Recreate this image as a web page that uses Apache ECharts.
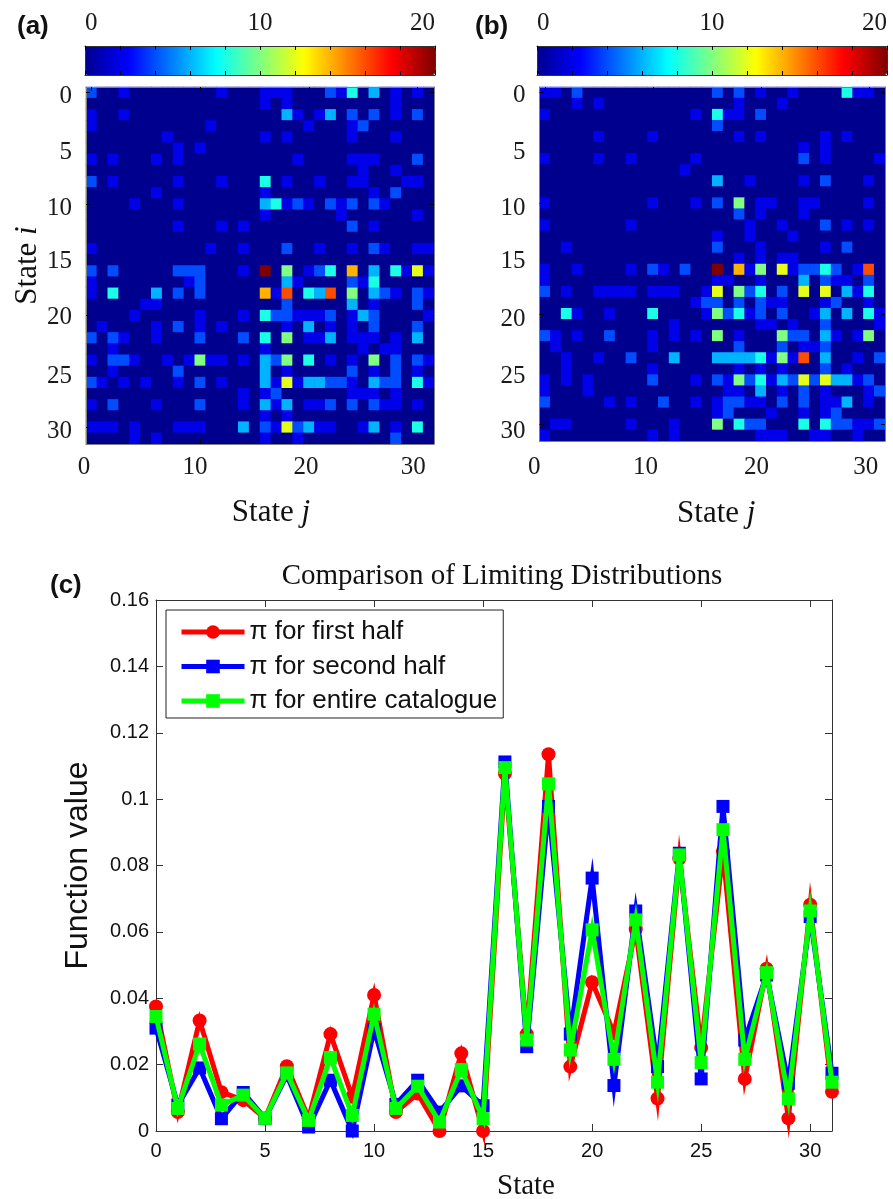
<!DOCTYPE html>
<html><head><meta charset="utf-8">
<script src="https://cdn.jsdelivr.net/npm/echarts@6/dist/echarts.min.js"></script>
<style>html,body{margin:0;padding:0;background:#fff}#c{width:893px;height:1199px}</style></head>
<body><div id="c"></div>
<script>
// Non-zero transition cells, one list per row i: [j, value, j, value, ...]
const transitionsA = [
 [0,4,3,2,12,2,16,2,17,2,18,2,22,4,23,2,24,8,26,6,28,2,30,2],
 [16,2,18,2,28,2],
 [0,2,3,2,18,6,19,2,21,2,22,6,24,4,26,4,28,2,30,4],
 [0,2,11,2,20,2,24,2,25,4],
 [7,2,16,2,18,2,24,2,28,2],
 [8,2,10,2],
 [0,2,2,2,6,2,8,2,19,2,24,2,25,2,26,2,30,4],
 [25,2,28,2],
 [0,4,2,2,8,2,12,2,16,8,18,2,21,2,24,2,25,2,29,2,30,2],
 [6,2,16,2,26,2,28,4],
 [4,2,8,2,16,6,17,8,18,2,19,4,20,2,22,4,23,2,24,4,26,4,27,2],
 [16,2,23,2,30,2],
 [8,2,12,2,14,2,24,4,26,2],
 [],
 [0,2,11,2,14,2,18,4,21,2,24,2,26,4,27,2,30,2,31,2],
 [],
 [0,4,2,4,8,4,9,4,10,4,14,2,16,20,18,10,20,2,21,4,22,8,24,14,26,6,28,8,29,2,30,12,31,2],
 [0,2,9,2,10,4,18,6,19,2,24,4,25,2,26,8],
 [0,2,2,8,6,6,8,4,10,4,16,14,17,2,18,16,20,8,21,6,22,16,24,10,26,6,27,4,28,2,30,4,31,2],
 [5,2,6,2,18,4,24,6,26,2,30,4],
 [4,2,10,2,14,2,16,8,17,4,18,4,19,2,20,2,21,2,22,4,24,2,25,6,26,4,31,2],
 [1,2,6,2,8,4,10,2,12,2,18,2,20,6,22,2,24,2,26,4,30,4],
 [0,4,2,4,3,2,6,2,10,4,14,4,16,8,18,10,20,2,21,2,22,6,24,2,25,2,26,2,28,2,30,6],
 [2,2,16,2,25,2,27,2,28,2],
 [0,2,2,4,3,4,4,2,7,2,9,2,10,10,11,2,12,2,14,2,16,6,17,4,18,10,20,8,22,2,24,2,26,10,28,4,30,4,31,2],
 [2,2,8,4,16,6,18,2,24,4,26,2,28,4,30,2],
 [0,4,1,2,3,2,5,2,8,2,10,4,12,2,16,6,17,2,18,12,19,2,20,6,21,6,22,4,23,4,24,2,26,6,27,4,28,4,30,8,31,2],
 [14,2,16,2,17,4,24,2,25,2,26,2,28,2],
 [0,2,2,4,6,2,10,4,14,2,16,6,17,2,18,6,20,2,21,2,22,4,24,4,26,4,27,2,28,2,30,2],
 [16,2,18,2],
 [0,2,1,2,2,2,4,2,8,2,9,2,10,2,14,6,16,4,17,2,18,12,19,4,20,6,21,2,22,2,25,2,26,6,28,2,30,8],
 [4,2,6,2,16,2,19,2,28,4]
];
const transitionsB = [
 [0,2,1,2,3,4,16,4,18,4,20,2,23,2,28,8,29,2,30,2],
 [3,2,5,2,18,2,22,2],
 [0,2,14,2,16,8,17,2,18,2,20,4],
 [16,4],
 [5,2,10,2,18,2,20,2,26,2,28,2],
 [24,2,26,2],
 [0,2,5,2,8,2,14,2,24,4,26,2,31,2],
 [13,2],
 [16,6,19,2,24,2,26,4,30,2],
 [],
 [0,2,10,2,14,2,16,4,18,10,20,2,21,2,24,2,25,2,30,2],
 [18,4,20,2,24,2],
 [0,2,8,2,19,2,22,2,26,4,28,2,30,2],
 [16,2,19,2,23,2],
 [2,2,16,4,20,2,26,2,28,4],
 [18,2,20,2,22,2,23,2],
 [0,2,3,2,8,2,10,4,11,2,13,4,16,20,18,14,19,2,20,10,22,12,23,2,24,4,25,4,26,8,27,4,29,2,30,16],
 [0,2,16,2,17,2,20,2,24,6,26,4,27,2,28,2,30,4],
 [0,4,2,2,5,2,6,2,7,2,8,2,10,2,11,2,12,2,15,2,16,12,18,10,19,4,20,8,22,4,24,12,26,12,28,6,29,2,30,8],
 [14,2,15,4,16,4,18,4,20,4,21,2,22,2,26,2,27,4,30,2],
 [2,8,3,2,6,2,10,8,15,2,16,10,17,4,18,8,19,2,20,4,22,4,25,2,26,6,28,6,30,8,31,2],
 [12,2,20,2,21,2,23,2,26,4,31,2],
 [0,4,1,2,3,2,6,4,10,2,12,2,14,2,16,10,18,2,22,10,23,4,24,4,26,6,27,2,29,2,30,10],
 [1,2,10,2,18,4,22,4,24,2,25,2,26,4],
 [2,2,5,2,8,4,12,6,16,6,17,6,18,6,19,6,20,8,21,2,22,10,23,2,24,16,26,6,29,2,31,4],
 [2,2,10,2,18,2,20,2,22,2,26,4,28,2],
 [0,2,2,2,4,2,10,4,14,2,16,4,17,2,18,10,19,4,20,8,21,2,22,6,23,4,24,12,25,4,26,12,27,6,28,6,29,2,30,4],
 [0,2,4,2,17,2,18,2,20,6,22,2,24,4,26,2,30,2,31,4],
 [0,4,6,2,8,2,11,4,14,2,16,2,17,4,18,4,19,2,20,2,22,4,24,4,26,2,27,2,28,6,30,2],
 [16,2,17,4,21,2,24,2,26,2,27,4],
 [1,2,2,2,8,2,12,2,16,10,18,8,19,4,20,4,24,8,26,8,27,4,28,4,29,2,30,2,31,4],
 [0,2,10,2,12,2,20,2,21,2,22,2,25,2,26,2,29,2]
];
const stateLabels = ['0','1','2','3','4','5','6','7','8','9','10','11','12','13','14','15','16','17','18','19','20','21','22','23','24','25','26','27','28','29','30','31'];
const piFirstHalf = [.0375,.0057,.0333,.0117,.0093,.0038,.0195,.0038,.0292,.0103,.041,.0057,.0113,0,.0234,0,.1077,.0292,.1135,.0194,.0448,.0295,.0608,.0098,.0821,.0251,.0842,.0157,.0489,.0038,.0682,.0118];
const piSecondHalf = [.031,.0078,.019,.0037,.0116,.0038,.0168,.0012,.0153,0,.0305,.008,.0153,.0057,.0136,.0076,.1112,.0254,.0978,.0292,.0762,.0137,.0663,.0194,.0837,.0157,.0978,.0274,.047,.0144,.0646,.0174];
const piEntire = [.0345,.0068,.0262,.0078,.0108,.0038,.0175,.0032,.0221,.0047,.0352,.0068,.0135,.0027,.0185,.0037,.1095,.0274,.1046,.0244,.0606,.0216,.0636,.0147,.0832,.0206,.0908,.0216,.0477,.0097,.0663,.0147];
const colorbarTicks = {min:0, max:20, step:2};
const jet = ['#00008f','#0000ff','#0080ff','#00ffff','#80ff80','#ffff00','#ff8000','#ff0000','#800000'];

function cells(rows){
  const out=[];
  rows.forEach((list,i)=>{
    const m={};
    for(let k=0;k<list.length;k+=2) m[list[k]]=list[k+1];
    stateLabels.forEach((_,j)=>out.push([j,i,m[j]||0]));
  });
  return out;
}
const serif='"Liberation Serif","Times New Roman",serif', sans='"Liberation Sans",Arial,sans-serif';
const frame='#7f7f7f';
const tens=i=>i%10===0;
function xCat(grid,pos,offsets,margin){
  const a={type:'category',gridIndex:grid,data:stateLabels,position:pos,z:10,boundaryGap:true,
    axisLine:{show:true,onZero:false,lineStyle:{color:frame,width:1}},
    axisTick:{show:true,inside:true,alignWithLabel:true,length:4,interval:tens,lineStyle:{color:'#000'}},
    splitLine:{show:false},axisLabel:{show:false}};
  if(offsets){
    const rich={};
    Object.keys(offsets).forEach(k=>rich['t'+k]={fontFamily:serif,fontSize:25,color:'#1a1a1a',padding:[0,offsets[k]*2,0,0]});
    a.axisLabel={show:true,interval:tens,margin,formatter:v=>`{t${v}|${v}}`,rich};
  }
  return a;
}
function yCat(grid,pos,offsets){
  const a={type:'category',gridIndex:grid,data:stateLabels,position:pos,inverse:true,z:10,
    axisLine:{show:true,onZero:false,lineStyle:{color:frame,width:1}},
    axisTick:{show:true,inside:true,alignWithLabel:true,length:4,interval:tens,lineStyle:{color:'#000'}},
    splitLine:{show:false},axisLabel:{show:false}};
  if(offsets){
    const rich={};
    Object.keys(offsets).forEach(k=>rich['t'+k]={fontFamily:serif,fontSize:25,color:'#1a1a1a',padding:[offsets[k]*2,0,0,0]});
    a.axisLabel={show:true,interval:i=>i%5===0,margin:14,formatter:v=>`{t${v}|${v}}`,rich};
  }
  return a;
}
function barX(grid,pos,labels){
  return {type:'value',gridIndex:grid,position:pos,min:colorbarTicks.min,max:colorbarTicks.max,interval:colorbarTicks.step,z:6,
    axisLine:{show:true,onZero:false,lineStyle:{color:'#333',width:1}},
    axisTick:{show:true,inside:true,length:4,lineStyle:{color:'#000'}},splitLine:{show:false},
    axisLabel:labels?{show:true,margin:10,fontFamily:serif,fontSize:25,color:'#1a1a1a',alignMinLabel:'left',alignMaxLabel:'right',
      formatter:v=>v%10===0?String(v):''}:{show:false}};
}
function barY(grid,pos){
  return {type:'value',gridIndex:grid,position:pos,min:0,max:1,z:6,
    axisLine:{show:true,onZero:false,lineStyle:{color:'#333',width:1}},axisTick:{show:false},axisLabel:{show:false},splitLine:{show:false}};
}
function heat(name,x,y,data){
  return {type:'heatmap',name,xAxisIndex:x,yAxisIndex:y,data,progressive:0,itemStyle:{borderWidth:0},emphasis:{disabled:true}};
}
function cbar(left,idx){
  return {type:'continuous',orient:'horizontal',left,top:46,itemWidth:29,itemHeight:350,min:0,max:20,calculable:false,
    showLabel:false,text:null,padding:0,seriesIndex:idx,hoverLink:false,realtime:false,inRange:{color:jet}};
}
function panel(text,left,top){
  return {text,left,top,padding:0,textStyle:{fontFamily:sans,fontWeight:'bold',fontSize:26,color:'#111'}};
}
function pi(name,values,color,symbol,size,z){
  return {type:'line',name,xAxisIndex:8,yAxisIndex:8,data:values.map((v,i)=>[i,v]),clip:false,z,
    symbol,symbolSize:size,showSymbol:true,showAllSymbol:true,
    lineStyle:{color,width:5,join:'miter',miterLimit:10},itemStyle:{color},emphasis:{disabled:true}};
}
const stateNameRich={i:{fontFamily:serif,fontStyle:'italic',fontSize:31,color:'#111'}};
const xA=xCat(0,'bottom',{0:7.4,10:5.2,20:2.9,30:4.4},11);
const xB=xCat(1,'bottom',{0:10.7,10:7.4,20:4.4,30:3},14);
[[xA,53,22],[xB,57,8]].forEach(([a,gap,shift])=>{
  a.name='State {i|j}';a.nameLocation='middle';a.nameGap=gap;
  a.nameTextStyle={fontFamily:serif,fontSize:31,color:'#111',padding:[0,0,0,shift],rich:stateNameRich};
});
const yA=yCat(0,'left',{0:4,5:4,10:4,15:2,20:2,25:5,30:4});
yA.name='State {i|i}';yA.nameLocation='middle';yA.nameGap=41;
yA.nameTextStyle={fontFamily:serif,fontSize:31,color:'#111',rich:stateNameRich};
const yB=yCat(1,'left',{0:3,5:5,10:5,15:3,20:6,25:7,30:7});

const heatBg='#00008f';
const option={
  animation:false,backgroundColor:'#fff',tooltip:{show:false},
  title:[panel('(a)',17,14),panel('(b)',475,14),panel('(c)',50,573),
    {text:'Comparison of Limiting Distributions',left:502,top:562,padding:0,textAlign:'center',
     textStyle:{fontFamily:serif,fontWeight:'normal',fontSize:29,color:'#111'}}],
  grid:[
    {left:86,top:87,width:348,height:357,show:true,backgroundColor:heatBg,borderWidth:0,outerBoundsMode:'none'},
    {left:539.5,top:87,width:345.5,height:354,show:true,backgroundColor:heatBg,borderWidth:0,outerBoundsMode:'none'},
    {left:85,top:46,width:350,height:29,outerBoundsMode:'none'},
    {left:537,top:46,width:350,height:29,outerBoundsMode:'none'},
    {left:156,top:600,width:676,height:531,outerBoundsMode:'none'}
  ],
  visualMap:[cbar(85,0),cbar(537,1)],
  legend:{orient:'vertical',left:166,top:610,padding:[9,6,4,13],itemWidth:63,itemHeight:17,itemGap:8.5,
    borderColor:'#222',borderWidth:1,backgroundColor:'#fff',selectedMode:false,z:20,
    lineStyle:{width:5},
    textStyle:{fontFamily:sans,fontSize:26,color:'#111'},
    data:['π for first half','π for second half','π for entire catalogue']},
  xAxis:[xA,xB,barX(2,'top',true),barX(3,'top',true),barX(2,'bottom',false),barX(3,'bottom',false),
    xCat(0,'top'),xCat(1,'top'),
    {type:'value',gridIndex:4,position:'bottom',min:0,max:31,interval:5,z:1,
      name:'State',nameLocation:'middle',nameGap:41,nameTextStyle:{fontFamily:serif,fontSize:29,color:'#111',padding:[0,0,0,64]},
      axisLine:{show:true,onZero:false,lineStyle:{color:'#333'}},axisTick:{inside:true,length:7,lineStyle:{color:'#333'}},splitLine:{show:false},
      axisLabel:{margin:10,fontFamily:sans,fontSize:20,color:'#111',showMaxLabel:false}},
    {type:'value',gridIndex:4,position:'top',min:0,max:31,interval:5,z:1,
      axisLine:{show:true,onZero:false,lineStyle:{color:'#333'}},axisTick:{inside:true,length:7,lineStyle:{color:'#333'}},splitLine:{show:false},axisLabel:{show:false}}
  ],
  yAxis:[yA,yB,barY(2,'left'),barY(3,'left'),barY(2,'right'),barY(3,'right'),
    yCat(0,'right'),yCat(1,'right'),
    {type:'value',gridIndex:4,position:'left',min:0,max:.16,interval:.02,z:1,
      name:'Function value',nameLocation:'middle',nameGap:62,nameTextStyle:{fontFamily:sans,fontSize:32,color:'#111'},
      axisLine:{show:true,onZero:false,lineStyle:{color:'#333'}},axisTick:{inside:true,length:7,lineStyle:{color:'#333'}},splitLine:{show:false},
      axisLabel:{margin:7,fontFamily:sans,fontSize:20,color:'#111'}},
    {type:'value',gridIndex:4,position:'right',min:0,max:.16,interval:.02,z:1,
      axisLine:{show:true,onZero:false,lineStyle:{color:'#333'}},axisTick:{inside:true,length:7,lineStyle:{color:'#333'}},splitLine:{show:false},axisLabel:{show:false}}
  ],
  series:[
    heat('a',0,0,cells(transitionsA)),
    heat('b',1,1,cells(transitionsB)),
    pi('π for first half',piFirstHalf,'#ff0000','circle',14,3),
    pi('π for second half',piSecondHalf,'#0000ff','rect',13,4),
    pi('π for entire catalogue',piEntire,'#00ff00','rect',13,5)
  ]
};
echarts.init(document.getElementById('c'),null,{renderer:'canvas'}).setOption(option);
</script></body></html>
